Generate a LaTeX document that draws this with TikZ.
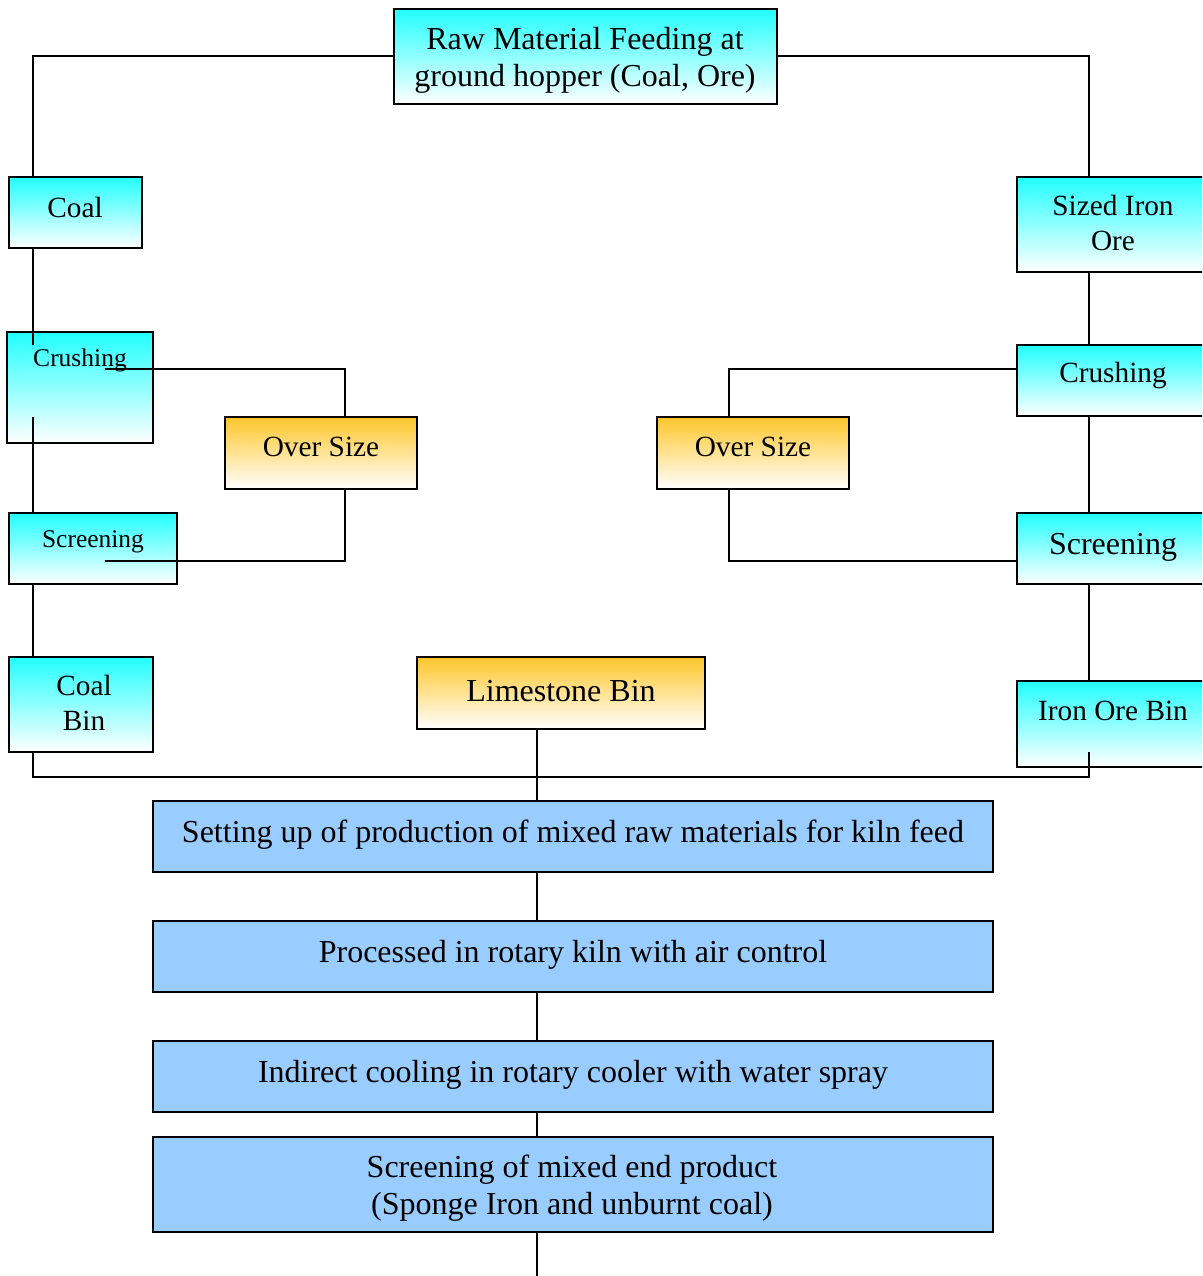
\documentclass[tikz,border=0pt]{standalone}
\usepackage{fontspec}
\setmainfont{Liberation Serif}
\definecolor{cyanT}{HTML}{22FFFF}
\definecolor{orangeT}{HTML}{FFC62A}
\definecolor{blueF}{HTML}{99CCFF}
\begin{document}
\begin{tikzpicture}[x=1pt,y=-1pt,
  ln/.style={line width=2pt},
  bx/.style 2 args={minimum width=#1, minimum height=#2},
  basebox/.style={draw, line width=2pt, inner sep=0pt},
  cbox/.style={basebox, top color=cyanT, bottom color=white},
  obox/.style={basebox, top color=orangeT, bottom color=white},
  bbox/.style={basebox, fill=blueF},
  txt/.style={font=\fontsize{32}{37}\selectfont, align=center, inner sep=0pt},
  mtxt/.style={font=\fontsize{29.3}{35}\selectfont, align=center, inner sep=0pt},
  stxt/.style={font=\fontsize{25.5}{30}\selectfont, align=center, inner sep=0pt}]
\clip (0,0) rectangle (1202,1276);
\fill[white] (0,0) rectangle (1202,1276);
% boxes
\node[cbox, bx={383}{95}]  (raw)     at (585.5,56.5) {};
\node[cbox, bx={133}{71}]  (coal)    at (75.5,212.5) {};
\node[cbox, bx={192}{95}]  (sized)   at (1113,224.5) {};
\node[cbox, bx={146}{111}] (lcrush)  at (80,387.5) {};
\node[obox, bx={192}{72}]  (lover)   at (321,453) {};
\node[cbox, bx={168}{71}]  (lscreen) at (93,548.5) {};
\node[cbox, bx={144}{95}]  (coalbin) at (81,704.5) {};
\node[cbox, bx={192}{71}]  (rcrush)  at (1113,380.5) {};
\node[obox, bx={192}{72}]  (rover)   at (753,453) {};
\node[cbox, bx={192}{71}]  (rscreen) at (1113,548.5) {};
\node[cbox, bx={192}{86}]  (ironbin) at (1113,724) {};
\node[obox, bx={288}{72}]  (lime)    at (561,693) {};
\node[bbox, bx={840}{71}]  (set)     at (573,836.5) {};
\node[bbox, bx={840}{71}]  (proc)    at (573,956.5) {};
\node[bbox, bx={840}{71}]  (cool)    at (573,1076.5) {};
\node[bbox, bx={840}{95}]  (scr)     at (573,1184.5) {};
% texts
\node[txt]  (rawT)     at (585,60)   {Raw Material Feeding at\\ground hopper (Coal, Ore)};
\node[mtxt] (coalT)    at (75,207)   {Coal};
\node[mtxt] (sizedT)   at (1113,223) {Sized Iron\\Ore};
\node[stxt] (lcrushT)  at (80,360)   {Crushing};
\node[mtxt] (loverT)   at (321,447)  {Over Size};
\node[stxt] (lscreenT) at (93,542)   {Screening};
\node[mtxt] (coalbinT) at (84,703)   {Coal\\Bin};
\node[mtxt] (rcrushT)  at (1113,375) {Crushing};
\node[mtxt] (roverT)   at (753,447)  {Over Size};
\node[txt]  (rscreenT) at (1113,547) {Screening};
\node[mtxt] (ironbinT) at (1113,711) {Iron Ore Bin};
\node[txt]  (limeT)    at (561,691)  {Limestone Bin};
\node[txt]  (setT)     at (573,835)  {Setting up of production of mixed raw materials for kiln feed};
\node[txt]  (procT)    at (573,955)  {Processed in rotary kiln with air control};
\node[txt]  (coolT)    at (573,1075) {Indirect cooling in rotary cooler with water spray};
\node[txt]  (scrT)     at (572,1188) {Screening of mixed end product\\(Sponge Iron and unburnt coal)};
% helper coordinates
\coordinate (lx)  at (33,0);
\coordinate (rx)  at (1089,0);
\coordinate (mx)  at (537,0);
\coordinate (lox) at (345,0);
\coordinate (rox) at (729,0);
\coordinate (c1)  at (33,345);
\coordinate (c2)  at (33,417);
\coordinate (c3)  at (105,369);
\coordinate (c4)  at (105,561);
\coordinate (j1)  at (33,777);
\coordinate (j2)  at (1089,777);
\coordinate (c5)  at (1089,752);
\coordinate (ry1) at (0,369);
\coordinate (ry2) at (0,561);
\coordinate (bot) at (537,1276);
% connectors
\draw[ln] (raw.west) -| (lx |- coal.north);
\draw[ln] (raw.east) -| (rx |- sized.north);
\draw[ln] (lx |- coal.south) -- (c1);
\draw[ln] (c2) -- (lx |- lscreen.north);
\draw[ln] (c3) -| (lox |- lover.north);
\draw[ln] (lox |- lover.south) |- (c4);
\draw[ln] (lx |- lscreen.south) -- (lx |- coalbin.north);
\draw[ln] (lx |- coalbin.south) -- (j1) -- (j2) -- (c5);
\draw[ln] (rx |- sized.south) -- (rx |- rcrush.north);
\draw[ln] (rx |- rcrush.south) -- (rx |- rscreen.north);
\draw[ln] (rx |- rscreen.south) -- (rx |- ironbin.north);
\draw[ln] (rcrush.west |- ry1) -| (rox |- rover.north);
\draw[ln] (rox |- rover.south) |- (rscreen.west |- ry2);
\draw[ln] (mx |- lime.south) -- (mx |- set.north);
\draw[ln] (mx |- set.south) -- (mx |- proc.north);
\draw[ln] (mx |- proc.south) -- (mx |- cool.north);
\draw[ln] (mx |- cool.south) -- (mx |- scr.north);
\draw[ln] (mx |- scr.south) -- (bot);
\end{tikzpicture}
\end{document}
